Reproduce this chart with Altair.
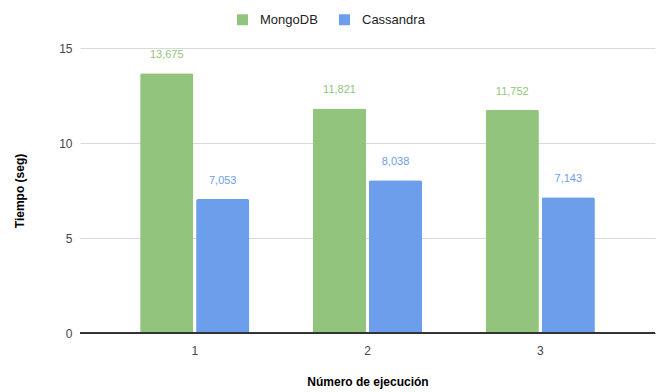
import altair as alt
import pandas as pd

runs = ["1", "2", "3"]
mongodb = [13.675, 11.821, 11.752]
cassandra = [7.053, 8.038, 7.143]
series = ["MongoDB", "Cassandra"]
colors = ["#93c47d", "#6d9eeb"]

rows = []
for i, r in enumerate(runs):
    rows.append({"run": r, "db": "MongoDB", "v": mongodb[i]})
    rows.append({"run": r, "db": "Cassandra", "v": cassandra[i]})
df = pd.DataFrame(rows)

font = "Liberation Sans"

x = alt.X("run:N", title="Número de ejecución",
          scale=alt.Scale(paddingInner=0.368, paddingOuter=0.348),
          axis=alt.Axis(labelAngle=0, ticks=False, domain=True, domainColor="#333333",
                        labelPadding=12, labelFontSize=12, labelColor="#444444",
                        titleFontSize=12, titleFontWeight="bold", titleColor="#000000",
                        titlePadding=20, labelFont=font, titleFont=font))
y = alt.Y("v:Q", title="Tiempo (seg)",
          scale=alt.Scale(domain=[0, 15], nice=False),
          axis=alt.Axis(values=[0, 5, 10, 15], ticks=False, domain=False, gridColor="#d9d9d9",
                        labelPadding=8, labelFontSize=12, labelColor="#444444",
                        titleFontSize=12, titleFontWeight="bold", titleColor="#000000",
                        titlePadding=32, labelFont=font, titleFont=font))
color = alt.Color("db:N", scale=alt.Scale(domain=series, range=colors),
                  legend=alt.Legend(title=None, orient="none", direction="horizontal",
                                    legendX=156, legendY=-35, symbolType="square",
                                    symbolSize=120, symbolStrokeWidth=0, symbolOpacity=1,
                                    labelFontSize=13, labelColor="#222222", labelFont=font,
                                    columnPadding=20, labelOffset=11))
xo = alt.XOffset("db:N", sort=series, scale=alt.Scale(paddingInner=0.05))

bars = alt.Chart(df).mark_bar(cornerRadiusTopLeft=2, cornerRadiusTopRight=2).encode(
    x=x, y=y, color=color, xOffset=xo)

labels = alt.Chart(df).transform_calculate(
    lab="replace(format(datum.v, '.3f'), '.', ',')"
).mark_text(dy=-18, fontSize=11, font=font).encode(
    x=x, y=y, xOffset=xo, text="lab:N",
    color=alt.Color("db:N", scale=alt.Scale(domain=series, range=colors), legend=None))

zero = alt.Chart(df).mark_rule(color="#333333").encode(y=alt.datum(0))

chart = alt.layer(bars, zero, labels).properties(
    width=575, height=285,
    padding={"left": 80, "top": 48, "right": 4, "bottom": 59},
    autosize=alt.AutoSizeParams(type="none"),
    background="white"
).configure_view(stroke=None)

chart.save("out.html", embed_options={"renderer": "svg", "actions": False})
